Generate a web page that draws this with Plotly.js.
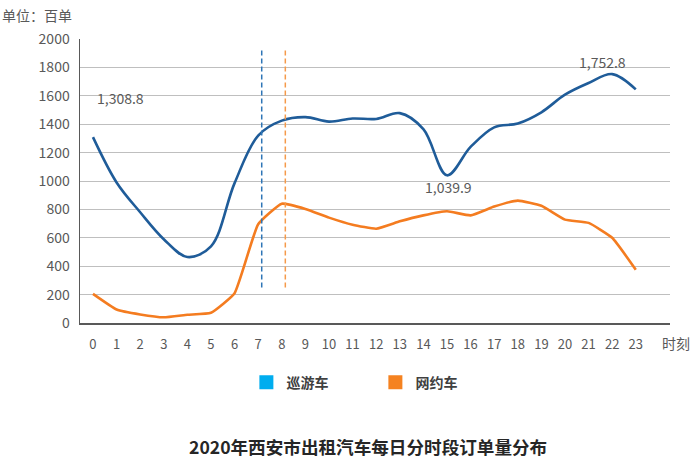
<!DOCTYPE html>
<html>
<head>
<meta charset="utf-8">
<script src="https://cdn.plot.ly/plotly-3.0.1.min.js"></script>
<style>body{margin:0;padding:0;background:#fff;} #chart{width:700px;height:460px;}</style>
</head>
<body>
<div id="chart"></div>
<script>
const hours = [0,1,2,3,4,5,6,7,8,9,10,11,12,13,14,15,16,17,18,19,20,21,22,23];
const hourLabels = ["0","1","2","3","4","5","6","7","8","9","10","11","12","13","14","15","16","17","18","19","20","21","22","23"];
const cruiseOrders = [1308.8,990,780,590,465,540,985,1320,1425,1450,1418,1440,1437,1478,1365,1039.9,1240,1378,1405,1484,1608,1690,1752.8,1645];
const rideHailOrders = [205,95,60,40,58,72,210,695,840,803,742,692,664,716,758,787,758,820,862,826,728,705,600,375];
const seriesNames = ["巡游车","网约车"];
const peakMarks = [7.15, 8.15];
const labelFmt = v => v.toLocaleString('en-US',{minimumFractionDigits:1,maximumFractionDigits:1});

const FONT = '"Noto Sans CJK SC", "Noto Sans", sans-serif';
const blueLine = '#1f5c99', orangeLine = '#f47c20';
const blueSwatch = '#00adef', orangeSwatch = '#f58220';

const traces = [
  {x: hours, y: cruiseOrders, type:'scatter', mode:'lines', line:{color:blueLine, width:2.6, shape:'spline', smoothing:1.0}, showlegend:false, hoverinfo:'x+y'},
  {x: hours, y: rideHailOrders, type:'scatter', mode:'lines', line:{color:orangeLine, width:2.6, shape:'spline', smoothing:0.4}, showlegend:false, hoverinfo:'x+y'},
  {x:[null], y:[null], type:'scatter', mode:'markers', name: seriesNames[0], marker:{symbol:'square', size:14, color:blueSwatch}},
  {x:[null], y:[null], type:'scatter', mode:'markers', name: seriesNames[1], marker:{symbol:'square', size:14, color:orangeSwatch}}
];

const iMin = 15, iMax = 22;
const layout = {
  width:700, height:460,
  margin:{l:80, r:30, t:39, b:137},
  paper_bgcolor:'#fff', plot_bgcolor:'#fff',
  font:{family:FONT, color:'#595959', size:13},
  xaxis:{
    range:[-0.55, 24.45], tickvals: hours, ticktext: hourLabels,
    showgrid:false, zeroline:false, showline:true, linecolor:'#595959', linewidth:1.5,
    ticks:'', ticklabelstandoff:9, tickfont:{size:13, color:'#595959'}
  },
  yaxis:{
    range:[0,2000], dtick:200, showgrid:true, gridcolor:'#bfbfbf', gridwidth:1,
    zeroline:false, showline:true, linecolor:'#595959', linewidth:1.5,
    ticks:'', ticklabelstandoff:6, tickfont:{size:14, color:'#595959'}
  },
  showlegend:true,
  legend:{orientation:'h', x:0.282, xanchor:'left', y:-0.21, yanchor:'middle',
    entrywidth:84, entrywidthmode:'pixels',
    font:{size:14, color:'#404040', family:FONT, weight:'bold'}, itemclick:false},
  shapes:[
    {type:'line', xref:'x', yref:'y', x0:peakMarks[0], x1:peakMarks[0], y0:250, y1:1935, line:{color:'#2e75b6', width:1.5, dash:'5px,3px'}},
    {type:'line', xref:'x', yref:'y', x0:peakMarks[1], x1:peakMarks[1], y0:250, y1:1935, line:{color:'#f59a4a', width:1.5, dash:'5px,3px'}}
  ],
  annotations:[
    {x:hours[0], y:cruiseOrders[0], text:labelFmt(cruiseOrders[0]), showarrow:false, xanchor:'left', yanchor:'bottom', xshift:2, yshift:27, font:{size:14, color:'#595959'}},
    {x:hours[iMin], y:cruiseOrders[iMin], text:labelFmt(cruiseOrders[iMin]), showarrow:false, xanchor:'center', yanchor:'top', xshift:2, yshift:0, font:{size:14, color:'#595959'}},
    {x:hours[iMax], y:cruiseOrders[iMax], text:labelFmt(cruiseOrders[iMax]), showarrow:false, xanchor:'center', yanchor:'bottom', xshift:-10, yshift:0, font:{size:14, color:'#595959'}},
    {xref:'paper', yref:'paper', x:1.0, y:-0.07, text:'时刻', showarrow:false, xanchor:'left', yanchor:'middle', xshift:-10, font:{size:14, color:'#595959'}},
    {xref:'paper', yref:'paper', x:-0.135, y:1.085, text:'单位：百单', showarrow:false, xanchor:'left', yanchor:'middle', font:{size:14, color:'#595959'}},
    {xref:'paper', yref:'paper', x:0.488, y:-0.435, text:'<b>2020年西安市出租汽车每日分时段订单量分布</b>', showarrow:false, xanchor:'center', yanchor:'middle', font:{size:17.6, color:'#262626'}}
  ]
};
Plotly.newPlot('chart', traces, layout, {displayModeBar:false, staticPlot:true});
</script>
</body>
</html>
